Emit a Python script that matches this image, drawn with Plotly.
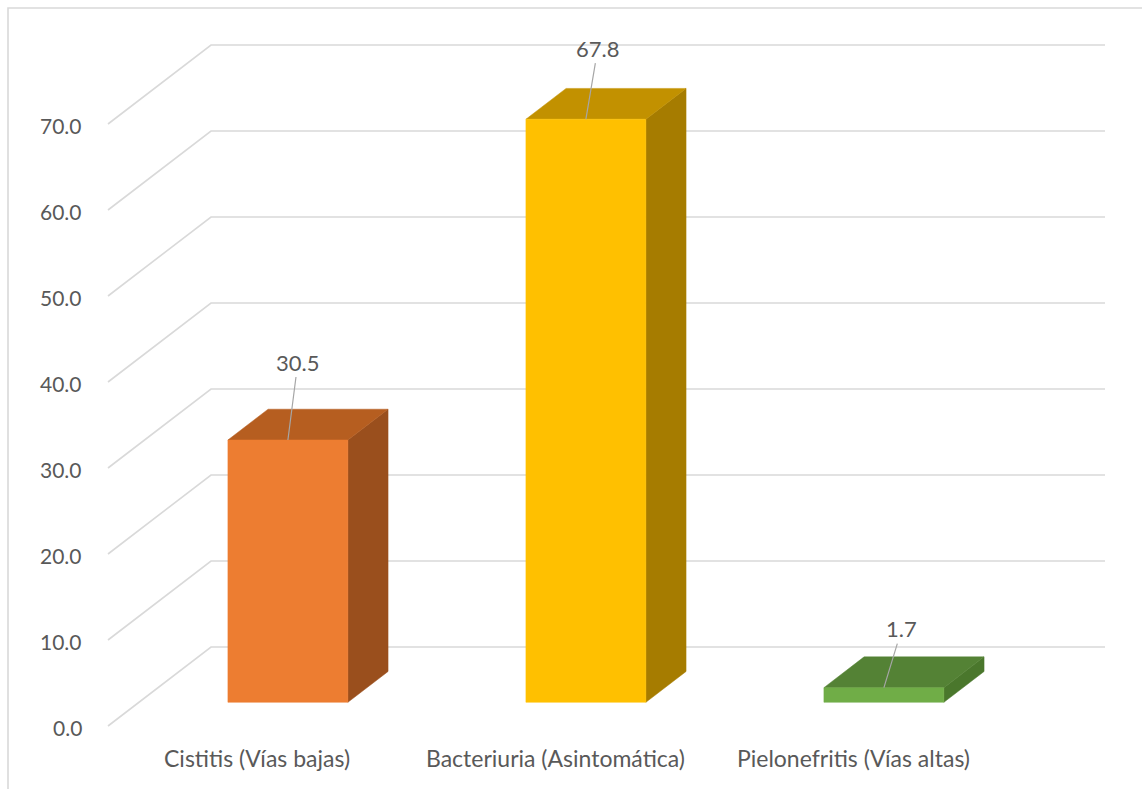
import plotly.graph_objects as go

# ---- data -------------------------------------------------------------
categories = ["Cistitis (Vías bajas)", "Bacteriuria (Asintomática)", "Pielonefritis (Vías altas)"]
values = [30.5, 67.8, 1.7]
y_ticks = [0, 10, 20, 30, 40, 50, 60, 70]

# ---- styling ----------------------------------------------------------
front_colors = ["#ED7D31", "#FFC000", "#70AD47"]
top_colors = ["#B65E20", "#C29100", "#548235"]
side_colors = ["#9A4F1D", "#A67C00", "#4A772C"]
label_offsets = [(10, -78), (12, -71), (18, -59)]  # pixel offsets of value labels
TEXT = "#595959"
GRID = "#D9D9D9"
FONT = "Lato"

W, H = 1142, 789
# oblique projection: depth t in [0, 1] (front floor edge -> back wall)
DX = 103 / 298          # x shift (category units) for full depth
DY = 79 / 8.6           # y shift (value units) for full depth
HALF_W = 0.2013         # half bar width in category units
T0, T1 = 0.30, 0.69     # bar front / back depth
X_LEFT, X_RIGHT = -0.5, 2.5


def proj(x, v, t):
    return x + DX * t, v + DY * t


fig = go.Figure()

# gridlines: left side wall + back wall
gx, gy = [], []
for v in y_ticks:
    for (x, t) in [(X_LEFT, 0), (X_LEFT, 1), (X_RIGHT, 1)]:
        px, py = proj(x, v, t)
        gx.append(px)
        gy.append(py)
    gx.append(None)
    gy.append(None)
fig.add_trace(go.Scatter(x=gx, y=gy, mode="lines",
                         line=dict(color=GRID, width=1.6),
                         hoverinfo="skip", showlegend=False))


def face(points, color):
    xs, ys = [], []
    for (x, v, t) in points + [points[0]]:
        px, py = proj(x, v, t)
        xs.append(px)
        ys.append(py)
    fig.add_trace(go.Scatter(x=xs, y=ys, mode="lines", fill="toself",
                             fillcolor=color, line=dict(color=color, width=0.5),
                             hoverinfo="skip", showlegend=False))


for i, v in enumerate(values):
    x0, x1 = i - HALF_W, i + HALF_W
    # side face
    face([(x1, 0, T0), (x1, 0, T1), (x1, v, T1), (x1, v, T0)], side_colors[i])
    # top face
    face([(x0, v, T0), (x1, v, T0), (x1, v, T1), (x0, v, T1)], top_colors[i])
    # front face
    face([(x0, 0, T0), (x1, 0, T0), (x1, v, T0), (x0, v, T0)], front_colors[i])

annotations = []
# value axis labels
for v in y_ticks:
    annotations.append(dict(x=X_LEFT, y=v, xref="x", yref="y", text=f"{v:.1f}",
                            showarrow=False, xanchor="right", yanchor="middle",
                            xshift=-24, yshift=-1,
                            font=dict(family=FONT, size=21, color=TEXT)))
# category labels
for i, c in enumerate(categories):
    annotations.append(dict(x=i, y=-3.72, xref="x", yref="y", text=c,
                            showarrow=False, xanchor="center", yanchor="middle",
                            font=dict(family=FONT, size=23, color=TEXT)))
# value labels with leader lines
for i, v in enumerate(values):
    ax_, ay_ = proj(i, v, T0)
    ox, oy = label_offsets[i]
    annotations.append(dict(x=ax_, y=ay_, xref="x", yref="y", text=f"{v:.1f}",
                            showarrow=True, arrowhead=0, arrowwidth=1.2,
                            arrowcolor="#A6A6A6", ax=ox, ay=oy, standoff=0,
                            font=dict(family=FONT, size=22, color=TEXT)))

# chart area border
shapes = [dict(type="rect", xref="paper", yref="paper",
               x0=8 / W, x1=1 + 10 / W, y0=-10 / H, y1=1 - 8 / H,
               line=dict(color=GRID, width=1.6), fillcolor="rgba(0,0,0,0)",
               layer="below")]

# axis ranges: category i front centre at pixel 257 + 298*i, value 0 at pixel 726
x_range = [(0 - 257) / 298, (W - 257) / 298]
y_range = [(726 - H) / 8.6, 726 / 8.6]

fig.update_layout(
    width=W, height=H,
    margin=dict(l=0, r=0, t=0, b=0),
    paper_bgcolor="white", plot_bgcolor="white",
    xaxis=dict(range=x_range, visible=False, fixedrange=True),
    yaxis=dict(range=y_range, visible=False, fixedrange=True),
    annotations=annotations,
    shapes=shapes,
    showlegend=False,
)

fig.write_html("out.html")
